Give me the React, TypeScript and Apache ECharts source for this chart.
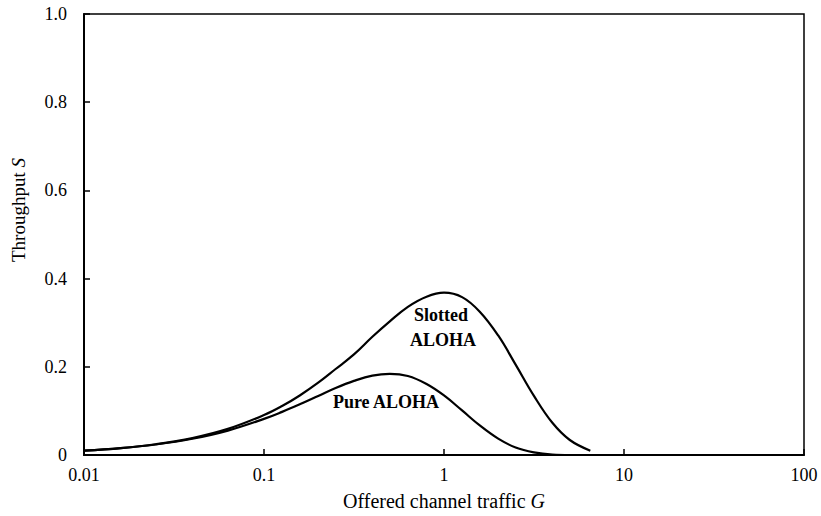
import React, { useEffect, useRef } from "react";
import * as echarts from "echarts";

const gValues = [0.01, 0.016, 0.025, 0.04, 0.063, 0.1, 0.126, 0.158, 0.2, 0.25, 0.316, 0.4, 0.5, 0.63, 0.8, 1, 1.26, 1.58, 2, 2.5, 3.16, 4, 5, 6.5];
const slottedS = [0.0099, 0.0157, 0.0244, 0.0384, 0.0592, 0.0905, 0.111, 0.135, 0.164, 0.195, 0.228, 0.268, 0.303, 0.336, 0.359, 0.368, 0.358, 0.325, 0.271, 0.205, 0.134, 0.073, 0.034, 0.0098];
const pureS = [0.0098, 0.0155, 0.0238, 0.0369, 0.0554, 0.0819, 0.0978, 0.115, 0.134, 0.152, 0.168, 0.18, 0.184, 0.179, 0.161, 0.135, 0.101, 0.067, 0.037, 0.017, 0.006, 0.001, 0.0];
const xTickLabels: Record<string, string> = { "0.01": "0.01", "0.1": "0.1", "1": "1", "10": "10", "100": "100" };

const FONT = "'Liberation Serif', 'DejaVu Serif', serif";

export default function App() {
  const ref = useRef<HTMLDivElement>(null);
  useEffect(() => {
    if (!ref.current) return;
    const chart = echarts.init(ref.current, undefined, { renderer: "svg" });
    const slotted = gValues.map((g, i) => [g, slottedS[i]]);
    const pure = pureS.map((s, i) => [gValues[i], s]);
    chart.setOption({
      animation: false,
      backgroundColor: "#fff",
      grid: { left: 84, right: 17, top: 14, bottom: 61, show: true, borderColor: "#000", borderWidth: 1.5 },
      xAxis: {
        type: "log",
        logBase: 10,
        min: 0.01,
        max: 100,
        axisLine: { show: true, lineStyle: { color: "#000", width: 2 } },
        axisTick: { show: true, inside: true, length: 6, lineStyle: { color: "#000", width: 1.5 } },
        minorTick: { show: false },
        splitLine: { show: false },
        axisLabel: {
          color: "#000",
          fontFamily: FONT,
          fontSize: 18,
          margin: 11,
          formatter: (v: number) => xTickLabels[String(v)] ?? String(v),
        },
      },
      yAxis: {
        type: "value",
        min: 0,
        max: 1,
        interval: 0.2,
        axisLine: { show: true, lineStyle: { color: "#000", width: 2 } },
        axisTick: { show: true, inside: true, length: 6, lineStyle: { color: "#000", width: 1.5 } },
        splitLine: { show: false },
        axisLabel: {
          color: "#000",
          fontFamily: FONT,
          fontSize: 18,
          margin: 17,
          formatter: (v: number) => (v === 0 ? "0" : v.toFixed(1)),
        },
      },
      series: [
        {
          name: "Slotted ALOHA",
          type: "line",
          data: slotted,
          smooth: 0.4,
          showSymbol: false,
          lineStyle: { color: "#000", width: 2.2 },
        },
        {
          name: "Pure ALOHA",
          type: "line",
          data: pure,
          smooth: 0.4,
          showSymbol: false,
          lineStyle: { color: "#000", width: 2.2 },
        },
      ],
      graphic: [
        {
          type: "text",
          x: 441,
          y: 315,
          style: { text: "Slotted", font: `bold 18px ${FONT}`, fill: "#000", align: "center", verticalAlign: "middle" },
        },
        {
          type: "text",
          x: 443,
          y: 340,
          style: { text: "ALOHA", font: `bold 18px ${FONT}`, fill: "#000", align: "center", verticalAlign: "middle" },
        },
        {
          type: "text",
          x: 386,
          y: 402,
          style: { text: "Pure ALOHA", font: `bold 18px ${FONT}`, fill: "#000", align: "center", verticalAlign: "middle" },
        },
        {
          type: "text",
          x: 18,
          y: 210,
          rotation: Math.PI / 2,
          style: {
            text: "{n|Throughput }{i|S}",
            align: "center",
            verticalAlign: "middle",
            rich: {
              n: { font: `19px ${FONT}`, fill: "#000" },
              i: { font: `italic 19px ${FONT}`, fill: "#000" },
            },
          },
        },
        {
          type: "text",
          x: 444,
          y: 501,
          style: {
            text: "{n|Offered channel traffic }{i|G}",
            align: "center",
            verticalAlign: "middle",
            rich: {
              n: { font: `20px ${FONT}`, fill: "#000" },
              i: { font: `italic 20px ${FONT}`, fill: "#000" },
            },
          },
        },
      ],
    });
    return () => chart.dispose();
  }, []);
  return <div ref={ref} style={{ position: "fixed", left: 0, top: 0, width: 821, height: 516 }} />;
}
